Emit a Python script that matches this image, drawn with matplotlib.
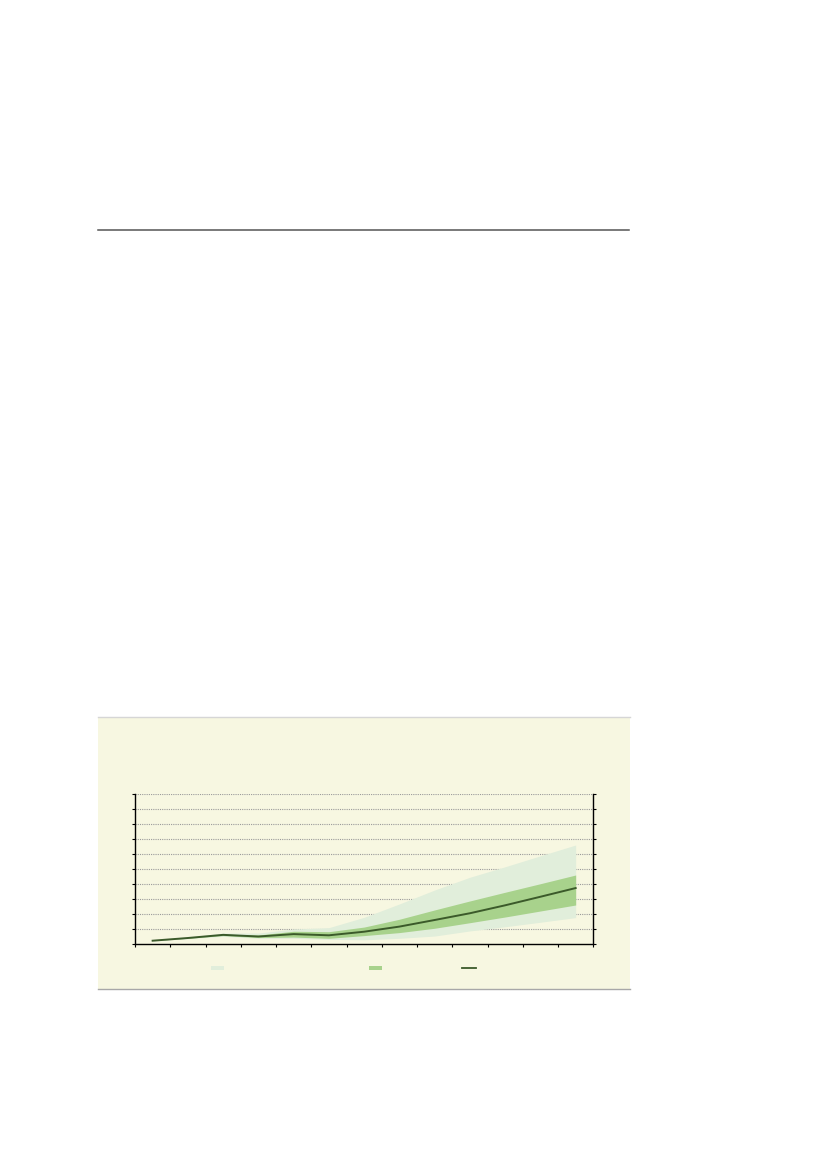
#!/usr/bin/env python3
"""Fan chart in a beige panel on an otherwise empty page."""

import matplotlib

matplotlib.use("Agg")
import matplotlib.pyplot as plt
from matplotlib.lines import Line2D
from matplotlib.patches import Rectangle

W, H = 826, 1169

PERIODS = list(range(1, 14))
CENTRAL = [0.24, 0.42, 0.63, 0.52, 0.68, 0.60, 0.84, 1.18, 1.62, 2.07, 2.60, 3.17, 3.75]
INNER_LO = [0.24, 0.40, 0.58, 0.45, 0.48, 0.40, 0.58, 0.78, 1.07, 1.44, 1.82, 2.22, 2.62]
INNER_HI = [0.24, 0.44, 0.68, 0.62, 0.87, 0.84, 1.15, 1.67, 2.29, 2.89, 3.47, 4.04, 4.62]
OUTER_LO = [0.24, 0.38, 0.53, 0.40, 0.40, 0.33, 0.30, 0.40, 0.55, 0.89, 1.17, 1.47, 1.78]
OUTER_HI = [0.24, 0.47, 0.75, 0.75, 1.02, 1.11, 1.80, 2.69, 3.62, 4.47, 5.17, 5.90, 6.62]

C_PANEL = "#f7f7e1"
C_OUTER = "#e1eedb"
C_INNER = "#a8d28c"
C_LINE = "#3b5a2a"
C_GRID = "#9a9a9a"


def px(x, y):
    return x / W, 1 - y / H


def main():
    fig = plt.figure(figsize=(W / 100, H / 100), dpi=100)

    # rule near the top of the page
    x0, y0 = px(98, 230)
    x1, _ = px(629, 230)
    fig.add_artist(Line2D([x0, x1], [y0, y0], color="#555555", lw=1.1))

    # beige panel
    bx, by = px(98, 989)
    fig.add_artist(
        Rectangle((bx, by), 532 / W, 272 / H, facecolor=C_PANEL,
                  edgecolor="none", zorder=0)
    )
    _, ty = px(0, 717)
    fig.add_artist(Line2D([bx, bx + 532 / W], [ty, ty], color="#d6d6d6", lw=1.0))
    fig.add_artist(Line2D([bx, bx + 532 / W], [by, by], color="#a8a8a8", lw=1.0))

    left, top = px(135, 794.3)
    right, bottom = px(593.3, 944.3)
    ax = fig.add_axes([left, bottom, right - left, top - bottom])
    ax.set_facecolor("none")

    ax.fill_between(PERIODS, OUTER_LO, OUTER_HI, color=C_OUTER, lw=0, zorder=1)
    ax.fill_between(PERIODS, INNER_LO, INNER_HI, color=C_INNER, lw=0, zorder=2)
    ax.plot(PERIODS, CENTRAL, color=C_LINE, lw=1.4, zorder=3)

    for v in range(1, 11):
        ax.axhline(v, color=C_GRID, lw=0.8, ls=(0, (1, 1)), zorder=0.5)

    ax.set_xlim(0.5, 13.5)
    ax.set_ylim(0, 10)
    ax.set_xticks([p - 0.5 for p in PERIODS] + [13.5])
    ax.set_yticks(range(0, 11))
    ax.set_xticklabels([])
    ax.set_yticklabels([])
    ax.tick_params(axis="both", direction="out", length=2.5, width=0.8,
                   color="black")
    ax.tick_params(axis="y", right=True)
    ax.spines["top"].set_visible(False)
    for side in ("left", "right", "bottom"):
        ax.spines[side].set_linewidth(1.0)
        ax.spines[side].set_color("black")

    # legend swatches (labels are blank in the original)
    lax = fig.add_axes([0, 0, 1, 1], facecolor="none")
    lax.set_xlim(0, W)
    lax.set_ylim(H, 0)
    lax.axis("off")
    lax.add_patch(Rectangle((211, 966), 13, 4, facecolor=C_OUTER, lw=0))
    lax.add_patch(Rectangle((369, 966), 13, 4, facecolor=C_INNER, lw=0))
    lax.plot([462, 476], [967.5, 967.5], color=C_LINE, lw=1.3)

    fig.savefig("out.png", dpi=100)
    plt.close(fig)


if __name__ == "__main__":
    main()
